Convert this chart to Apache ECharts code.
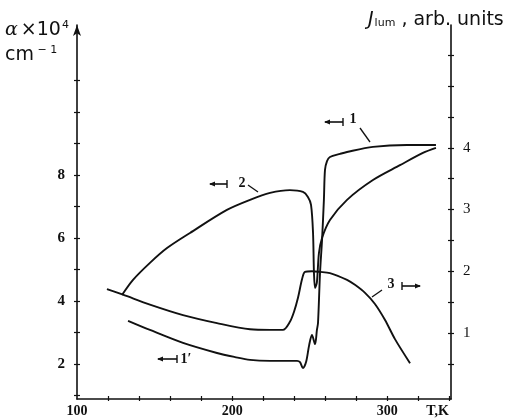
<!DOCTYPE html>
<html>
<head>
<meta charset="utf-8">
<script src="https://cdn.jsdelivr.net/npm/echarts@6.0.0/dist/echarts.min.js"></script>
<style>
html,body{margin:0;padding:0;background:#ffffff;}
#chart{width:511px;height:420px;}
</style>
</head>
<body>
<div id="chart"></div>
<script>
// ---------- Data (temperature T in K) ----------
// Curve 1 / 1' : absorption coefficient (alpha x 10^4 cm^-1), left axis
var curve1T = [132.9,147.0,168.3,190.2,201.8,211.5,224.4,241.8,243.7,245.6,247.6,249.6,251.4,253.4,254.6,255.3,256.6,257.9,259.1,259.8,261.1,263.0,269.5,274.0,290.7,312.6,331.3];
var curve1A = [3.37,3.08,2.67,2.35,2.22,2.13,2.10,2.10,2.06,1.87,2.06,2.60,2.92,2.63,3.08,3.30,4.89,5.94,7.21,8.16,8.44,8.57,8.67,8.73,8.89,8.95,8.95];
// Curve 2 : absorption coefficient, left axis
var curve2T = [129.0,136.1,147.0,158.0,172.8,196.6,211.5,224.4,237.2,245.6,248.8,250.8,252.1,252.7,253.4,254.6,255.9,257.9,263.0,274.0,290.7,308.1,322.9,331.3];
var curve2A = [4.19,4.67,5.21,5.68,6.16,6.89,7.21,7.43,7.52,7.46,7.30,7.05,6.16,4.89,4.41,4.60,5.52,6.00,6.57,7.21,7.84,8.31,8.70,8.86];
// Curve 3 : luminescence intensity J_lum (arb. units), right axis
var curve3T = [119.3,129.6,147.0,168.3,190.2,211.5,224.4,232.7,237.2,239.8,242.4,245.0,246.9,251.4,256.6,263.0,274.0,279.1,285.6,292.0,298.5,304.9,314.6];
var curve3J = [1.71,1.62,1.46,1.29,1.16,1.06,1.05,1.05,1.18,1.34,1.57,1.87,1.99,2.00,1.99,1.97,1.86,1.78,1.65,1.47,1.21,0.90,0.51];

// ---------- Ticks and tick labels ----------
var xTicks = [120,140,160,180,200,220,240,260,280,300,320,340];
var xLabels = [100,200,300];
var leftTicks = [1,2,3,4,5,6,7,8,9,10,11];
var leftLabels = [2,4,6,8];
var rightTicks = [0.5,1,1.5,2,2.5,3,3.5,4,4.5,5,5.5];
var rightLabels = [1,2,3,4];

function pairs(xs, ys) { return xs.map(function (x, i) { return [x, ys[i]]; }); }

var INK = '#111111';
var serifBold = { color: INK, fontFamily: 'Liberation Serif', fontWeight: 'bold' };

function line(x1, y1, x2, y2, w) {
  return { type: 'line', shape: { x1: x1, y1: y1, x2: x2, y2: y2 }, style: { stroke: INK, lineWidth: w || 1.3 } };
}
// "<-|" style marker: head at hx, bar at bx
function arrowMark(hx, bx, y) {
  var d = bx > hx ? 1 : -1;
  return [
    line(hx, y, bx, y, 1.6),
    line(bx, y - 4, bx, y + 4, 1.4),
    { type: 'polygon', shape: { points: [[hx - d * 1, y], [hx + d * 5, y - 2.5], [hx + d * 5, y + 2.5]] }, style: { fill: INK } }
  ];
}
function label(txt, x, y, size) {
  return { type: 'text', x: x, y: y, style: { text: txt, fill: INK, font: 'bold ' + (size || 14) + 'px "Liberation Serif"', textAlign: 'center', textVerticalAlign: 'middle', align: 'center', verticalAlign: 'middle' } };
}

var graphics = [
  // left axis title
  { type: 'text', x: 5, y: 30, style: {
      text: '{a|α}{t|×10}{s|4}',
      textVerticalAlign: 'middle', verticalAlign: 'middle',
      rich: {
        a: { fill: INK, fontFamily: 'DejaVu Serif', fontStyle: 'italic', fontSize: 19, lineHeight: 24, padding: [0, 3, 0, 0] },
        t: { fill: INK, fontFamily: 'DejaVu Sans', fontSize: 19, lineHeight: 24 },
        s: { fill: INK, fontFamily: 'DejaVu Sans', fontSize: 11, lineHeight: 24, verticalAlign: 'top', padding: [2, 0, 0, 1] }
      } } },
  { type: 'text', x: 5, y: 55, style: {
      text: '{t|cm}{s| − 1}',
      textVerticalAlign: 'middle', verticalAlign: 'middle',
      rich: {
        t: { fill: INK, fontFamily: 'DejaVu Sans', fontSize: 19, lineHeight: 24 },
        s: { fill: INK, fontFamily: 'DejaVu Sans', fontSize: 11, lineHeight: 24, verticalAlign: 'top', padding: [2, 0, 0, 0] }
      } } },
  // right axis title
  { type: 'text', x: 368, y: 20, style: {
      text: '{j|J}{b|lum}{t| , arb. units}',
      textVerticalAlign: 'middle', verticalAlign: 'middle',
      rich: {
        j: { fill: INK, fontFamily: 'DejaVu Sans', fontStyle: 'italic', fontSize: 19, lineHeight: 22 },
        b: { fill: INK, fontFamily: 'DejaVu Sans', fontSize: 11, lineHeight: 22, verticalAlign: 'bottom', padding: [0, 0, 2, 1] },
        t: { fill: INK, fontFamily: 'DejaVu Sans', fontSize: 19, lineHeight: 22 }
      } } },
  // curve annotations
  label('2', 242, 183),
  line(248, 185, 258, 192),
  label('1', 353, 119),
  line(360, 128, 370, 142),
  label('3', 391, 284),
  line(372, 297, 382, 290),
  label('1′', 186, 359)
].concat(arrowMark(210, 227, 184))
 .concat(arrowMark(325, 343, 122))
 .concat(arrowMark(420, 402, 286))
 .concat(arrowMark(158, 177, 359));

var tickStyle = { color: INK, width: 1.2 };
var commonLine = { type: 'line', symbol: 'none', showSymbol: false, smooth: 0.3,
  lineStyle: { color: INK, width: 1.9 }, emphasis: { disabled: true } };

var option = {
  animation: false,
  backgroundColor: '#ffffff',
  grid: { left: 77, right: 60, top: 25, bottom: 21 },
  xAxis: [
    { type: 'value', min: 100, max: 341, position: 'bottom',
      name: 'T,K', nameLocation: 'end', nameGap: -2,
      nameTextStyle: { color: INK, fontFamily: 'Liberation Serif', fontWeight: 'bold', fontSize: 14, align: 'right', verticalAlign: 'top', padding: [5, 0, 0, 0] },
      axisLine: { onZero: false, lineStyle: { color: INK, width: 1.6 } },
      axisTick: { customValues: xTicks, inside: true, length: 3, lineStyle: tickStyle },
      axisLabel: Object.assign({ customValues: xLabels, fontSize: 14, margin: 5, showMinLabel: true }, serifBold),
      splitLine: { show: false } },
    { type: 'value', min: 100, max: 341, position: 'bottom',
      axisLine: { show: false, onZero: false },
      axisTick: { customValues: xTicks, inside: false, length: 2, lineStyle: tickStyle },
      axisLabel: { show: false }, splitLine: { show: false } }
  ],
  yAxis: [
    { type: 'value', position: 'left', min: 0.889, max: 12.76,
      axisLine: { show: true, onZero: false, symbol: ['none', 'arrow'], symbolSize: [6, 11], lineStyle: { color: INK, width: 1.6 } },
      axisTick: { show: true, customValues: leftTicks, inside: true, length: 3, lineStyle: tickStyle },
      axisLabel: Object.assign({ customValues: leftLabels, fontSize: 15, margin: 12 }, serifBold),
      splitLine: { show: false } },
    { type: 'value', position: 'right', min: -0.07, max: 5.99,
      axisLine: { show: true, onZero: false, lineStyle: { color: INK, width: 1.6 } },
      axisTick: { show: true, customValues: rightTicks, inside: true, length: 3, lineStyle: tickStyle },
      axisLabel: { customValues: rightLabels, fontSize: 15, margin: 12, color: INK, fontFamily: 'Liberation Serif' },
      splitLine: { show: false } },
    { type: 'value', position: 'left', min: 0.889, max: 12.76,
      axisLine: { show: false, onZero: false },
      axisTick: { show: true, customValues: leftTicks, inside: false, length: 3, lineStyle: tickStyle },
      axisLabel: { show: false }, splitLine: { show: false } },
    { type: 'value', position: 'right', min: -0.07, max: 5.99,
      axisLine: { show: false, onZero: false },
      axisTick: { show: true, customValues: rightTicks, inside: false, length: 3, lineStyle: tickStyle },
      axisLabel: { show: false }, splitLine: { show: false } }
  ],
  series: [
    Object.assign({ name: '1', xAxisIndex: 0, yAxisIndex: 0, data: pairs(curve1T, curve1A) }, commonLine),
    Object.assign({ name: '2', xAxisIndex: 0, yAxisIndex: 0, data: pairs(curve2T, curve2A) }, commonLine),
    Object.assign({ name: '3', xAxisIndex: 0, yAxisIndex: 1, data: pairs(curve3T, curve3J) }, commonLine)
  ],
  graphic: graphics
};

var chart = echarts.init(document.getElementById('chart'), null, { renderer: 'canvas' });
chart.setOption(option);
</script>
</body>
</html>
